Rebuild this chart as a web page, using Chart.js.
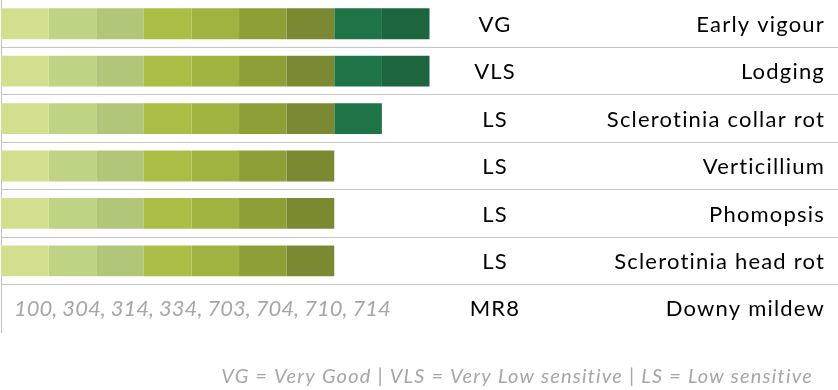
<!DOCTYPE html>
<html>
<head>
<meta charset="utf-8">
<script src="https://cdn.jsdelivr.net/npm/chart.js@4.4.1/dist/chart.umd.min.js"></script>
<style>
  html, body { margin: 0; padding: 0; background: #ffffff; }
  #wrap { width: 838px; height: 390px; position: relative; }
</style>
</head>
<body>
<div id="wrap"><canvas id="traitChart"></canvas></div>
<script>
const traits = ["Early vigour", "Lodging", "Sclerotinia collar rot", "Verticillium", "Phomopsis", "Sclerotinia head rot", "Downy mildew"];
const ratings = ["VG", "VLS", "LS", "LS", "LS", "LS", "MR8"];
const segmentCounts = [9, 9, 8, 7, 7, 7, 0];
const downyRaces = "100, 304, 314, 334, 703, 704, 710, 714";
const footerNote = "VG = Very Good | VLS = Very Low sensitive | LS = Low sensitive";
const segmentColors = ["#d3df8f", "#bed383", "#b1c679", "#abbd44", "#a0b341", "#8f9f38", "#7b8a32", "#1e7447", "#1d653e"];

const fontFamily = "Lato, 'Open Sans', sans-serif";

// one dataset per colour step, value 1 where the row reaches that step
const datasets = segmentColors.map((color, k) => ({
  label: "step " + (k + 1),
  data: segmentCounts.map(n => (n > k ? 1 : 0)),
  backgroundColor: color,
  borderWidth: 0,
  categoryPercentage: 1,
  barPercentage: 0.65,
}));

const textPlugin = {
  id: "textPlugin",
  afterDraw(chart) {
    const ctx = chart.ctx;
    const yScale = chart.scales.y;
    ctx.save();
    ctx.textBaseline = "middle";
    ctx.fillStyle = "#000000";
    ctx.font = "22px " + fontFamily;
    ctx.letterSpacing = "1.2px";
    traits.forEach((name, i) => {
      const y = yScale.getPixelForValue(i) + 1;
      ctx.textAlign = "center";
      ctx.fillText(ratings[i], 495, y);
      ctx.textAlign = "right";
      ctx.fillText(name, 825, y);
    });

    // downy mildew races sit where the bar would be
    ctx.fillStyle = "#a6a6a6";
    ctx.font = "italic 22px " + fontFamily;
    ctx.letterSpacing = "0px";
    ctx.textAlign = "left";
    ctx.fillText(downyRaces, 14, yScale.getPixelForValue(6) + 1);

    ctx.font = "italic 20px " + fontFamily;
    ctx.letterSpacing = "1.2px";
    ctx.textAlign = "right";
    ctx.fillText(footerNote, 813, 377);
    ctx.restore();
  },
};

new Chart(document.getElementById("traitChart"), {
  type: "bar",
  data: {
    labels: traits,
    datasets: datasets,
  },
  options: {
    indexAxis: "y",
    responsive: true,
    maintainAspectRatio: false,
    animation: false,
    layout: {
      padding: { left: 1, right: 0, top: 0, bottom: 58 },
    },
    scales: {
      x: {
        stacked: true,
        min: 0,
        max: 17.58,
        display: false,
      },
      y: {
        stacked: true,
        ticks: { display: false },
        border: { display: true, color: "#bfbfbf", width: 1 },
        grid: {
          drawTicks: false,
          lineWidth: 1,
          color: (c) => (c.type !== "tick" || c.index === 0 ? "rgba(0,0,0,0)" : "#c4c4c4"),
        },
      },
    },
    plugins: {
      legend: { display: false },
      tooltip: { enabled: false },
    },
  },
  plugins: [textPlugin],
});
</script>
</body>
</html>
